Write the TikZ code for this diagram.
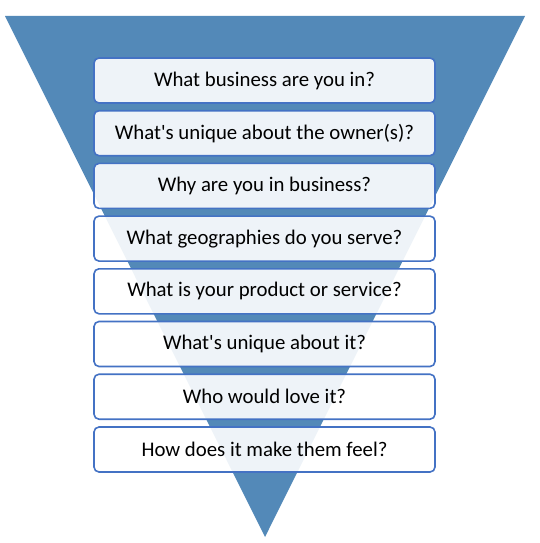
\documentclass[tikz,border=0pt]{standalone}
\usepackage{fontspec}
\setmainfont{Carlito}[Ligatures=TeXOff]
\definecolor{funnelblue}{HTML}{5389B8}
\definecolor{boxline}{HTML}{4472C4}
\begin{document}
\begin{tikzpicture}[x=1pt,y=-1pt,
  qbox/.style={draw=boxline, line width=1.6pt, rounded corners=5pt, fill=white, fill opacity=0.9, text opacity=1,
    minimum width=341pt, minimum height=45pt, inner sep=0pt, font=\fontsize{20.8pt}{24pt}\selectfont, text=black},
]
\useasboundingbox (0,0) rectangle (540,543);
\fill[funnelblue] (5,16) coordinate (tl) -- (525,16) coordinate (tr) -- (265,537) coordinate (apex) -- cycle;
\node[qbox] (q1) at (264.5,80.5) {What business are you in?};
\node[qbox] (q2) at (264.5,133.2) {What's unique about the owner(s)?};
\node[qbox] (q3) at (264.5,185.9) {Why are you in business?};
\node[qbox] (q4) at (264.5,238.6) {What geographies do you serve?};
\node[qbox] (q5) at (264.5,291.3) {What is your product or service?};
\node[qbox] (q6) at (264.5,344.0) {What's unique about it?};
\node[qbox] (q7) at (264.5,396.7) {Who would love it?};
\node[qbox] (q8) at (264.5,449.5) {How does it make them feel?};
\end{tikzpicture}
\end{document}
